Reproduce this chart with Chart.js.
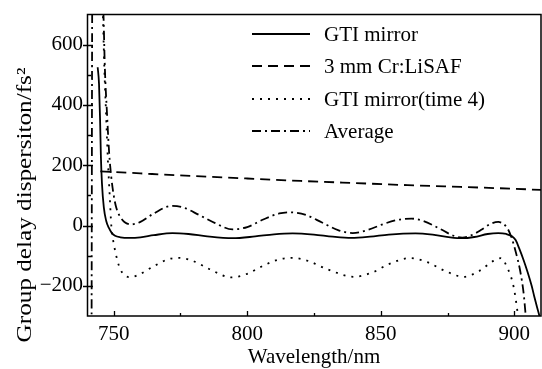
<!DOCTYPE html>
<html>
<head>
<meta charset="utf-8">
<script src="https://cdn.jsdelivr.net/npm/chart.js@4.4.1/dist/chart.umd.min.js"></script>
<style>
  html, body { margin: 0; padding: 0; background: #fff; }
  #wrap { width: 542px; height: 369px; }
</style>
</head>
<body>
<div id="wrap"><canvas id="gddChart"></canvas></div>
<script>
// axis ticks
const xTicks = [750, 800, 850, 900];
const xMinorTicks = [775, 825, 875];
const yTicks = [-200, 0, 200, 400, 600];
const yMinorTicks = [-100, 100, 300, 500];
const yTitle = "Group delay dispersiton/fs\u00b2";

// GTI mirror
const gtiWl = [744.0, 744.5, 744.9, 745.2, 745.6, 746.3, 747.2, 748.2, 749.3, 750.5, 752.5, 756, 760, 765, 772, 778, 785, 794.5,
  803, 810, 817, 825, 832, 839, 846, 853, 863, 870, 876, 880.5, 885, 890, 894, 897, 899, 900.5, 901.8, 903.5, 905, 906.5, 907.5, 908.5, 909.4, 910];
const gtiGdd = [525, 470, 350, 230, 140, 60, 15, -8, -25, -34, -39, -41, -39, -32, -25, -28, -36, -42,
  -36, -29, -26, -30, -37, -41, -37, -30, -26, -31, -39, -42, -38, -28, -25, -28, -35, -48, -75, -115, -155, -200, -236, -270, -300, -330];

// 3 mm Cr:LiSAF
const lisafWl = [745, 760, 780, 800, 820, 840, 860, 880, 900, 910];
const lisafGdd = [180, 173, 164, 156, 148, 141, 134, 128, 122, 118];

// GTI mirror, four bounces
const gti4Wl = [745.9, 746.5, 747.1, 747.8, 748.5, 749.1, 749.9, 750.7, 751.5, 752.5, 754, 756.5, 760, 765, 770, 774, 779, 786, 794,
  800, 806, 812, 817, 823, 830, 840, 847, 853, 861, 867, 874, 881, 887, 892, 895, 897.4, 899.3, 900.2, 901.1, 901.7];
const gti4Gdd = [720, 520, 380, 220, 100, 0, -55, -90, -120, -145, -165, -171, -160, -135, -113, -107, -115, -145, -172,
  -160, -133, -112, -107, -118, -145, -170, -155, -128, -108, -120, -150, -170, -150, -118, -108, -140, -186, -225, -280, -320];

// Average
const avgWl = [741.7, 742.0, 745.6, 746.1, 746.7, 747.5, 748.3, 749.1, 750, 751, 752.5, 754, 756.5, 760, 765, 771.5, 776, 782, 788, 794.5,
  800, 806, 812, 816, 822, 828, 834, 839.5, 845, 851, 856, 861.5, 866, 872, 877, 880.5, 884, 888, 891, 894, 896, 897.5, 898.9, 900.7, 902.2, 903.5, 904.3, 904.7];
const avgGdd = [-400, 800, 800, 720, 520, 370, 240, 160, 100, 58, 28, 12, 4, 12, 40, 65, 60, 35, 8, -13,
  -5, 20, 40, 44, 35, 10, -15, -25, -15, 5, 18, 23, 15, -10, -33, -40, -32, -12, 5, 12, 5, -10, -38, -93, -150, -225, -300, -330];

const serif = '"Liberation Serif", "DejaVu Serif", serif';

function pts(wl, gdd) {
  return wl.map((x, i) => ({ x: x, y: gdd[i] }));
}

function series(label, wl, gdd, dash) {
  return {
    label: label,
    data: pts(wl, gdd),
    borderColor: "#000",
    borderWidth: 1.8,
    borderDash: dash,
    pointRadius: 0,
    fill: false,
    cubicInterpolationMode: "monotone",
    clip: 0
  };
}

// frame, inward tick marks, y title and the legend box
const framePlugin = {
  id: "frame",
  afterDraw(chart) {
    const { ctx, chartArea: a, scales } = chart;
    const xs = scales.x, ys = scales.y;
    ctx.save();
    ctx.strokeStyle = "#000";
    ctx.lineWidth = 1.5;
    ctx.setLineDash([]);
    ctx.strokeRect(a.left + 0.5, a.top, a.right - a.left - 0.5, a.bottom - a.top);

    ctx.lineWidth = 1.3;
    ctx.beginPath();
    xTicks.forEach(v => {
      const px = Math.round(xs.getPixelForValue(v)) + 0.5;
      ctx.moveTo(px, a.bottom); ctx.lineTo(px, a.bottom - 5);
    });
    xMinorTicks.forEach(v => {
      const px = Math.round(xs.getPixelForValue(v)) + 0.5;
      ctx.moveTo(px, a.bottom); ctx.lineTo(px, a.bottom - 3);
    });
    yTicks.forEach(v => {
      const py = Math.round(ys.getPixelForValue(v)) + 0.5;
      ctx.moveTo(a.left - 4, py); ctx.lineTo(a.left + 6, py);
    });
    yMinorTicks.forEach(v => {
      const py = Math.round(ys.getPixelForValue(v)) + 0.5;
      ctx.moveTo(a.left, py); ctx.lineTo(a.left + 4, py);
    });
    ctx.stroke();

    // y title, a little wide
    ctx.font = "21px " + serif;
    ctx.fillStyle = "#000";
    ctx.textAlign = "center";
    ctx.textBaseline = "middle";
    ctx.save();
    ctx.translate(25, 205);
    ctx.rotate(-Math.PI / 2);
    ctx.scale(1.2, 1);
    ctx.fillText(yTitle, 0, 0);
    ctx.restore();

    // legend
    const rowY = [34, 66, 99, 131];
    ctx.textAlign = "left";
    chart.data.datasets.forEach((ds, i) => {
      const y = rowY[i];
      ctx.beginPath();
      ctx.lineWidth = ds.borderWidth;
      ctx.setLineDash(ds.borderDash || []);
      ctx.moveTo(252, y);
      ctx.lineTo(310, y);
      ctx.stroke();
      ctx.fillText(ds.label, 324, y + 1);
    });
    ctx.restore();
  }
};

new Chart(document.getElementById("gddChart").getContext("2d"), {
  type: "line",
  data: {
    datasets: [
      series("GTI mirror", gtiWl, gtiGdd, []),
      series("3 mm Cr:LiSAF", lisafWl, lisafGdd, [10, 6]),
      series("GTI mirror(time 4)", gti4Wl, gti4Gdd, [2, 6]),
      series("Average", avgWl, avgGdd, [9, 4, 2, 4])
    ]
  },
  options: {
    responsive: true,
    maintainAspectRatio: false,
    animation: false,
    layout: { padding: { top: 12, right: 1, left: 0, bottom: 0 } },
    plugins: { legend: { display: false }, tooltip: { enabled: false } },
    scales: {
      x: {
        type: "linear",
        min: 740,
        max: 910,
        afterBuildTicks: s => { s.ticks = xTicks.map(v => ({ value: v })); },
        afterFit: s => { s.height = 53; },
        grid: { display: false, drawTicks: false },
        border: { display: false },
        ticks: { color: "#000", padding: 8, maxRotation: 0, font: { family: serif, size: 21, lineHeight: 1 } },
        title: {
          display: true,
          text: "Wavelength/nm",
          color: "#000",
          padding: { top: 0, bottom: 1 },
          font: { family: serif, size: 21, lineHeight: 1 }
        }
      },
      y: {
        type: "linear",
        min: -300,
        max: 700,
        afterBuildTicks: s => { s.ticks = yTicks.map(v => ({ value: v })); },
        afterFit: s => { s.width = 87; },
        grid: { display: false, drawTicks: false },
        border: { display: false },
        ticks: {
          color: "#000",
          padding: 4,
          font: { family: serif, size: 21, lineHeight: 1 },
          callback: v => (v < 0 ? "\u2212" + Math.abs(v) : String(v))
        }
      }
    }
  },
  plugins: [framePlugin]
});
</script>
</body>
</html>
